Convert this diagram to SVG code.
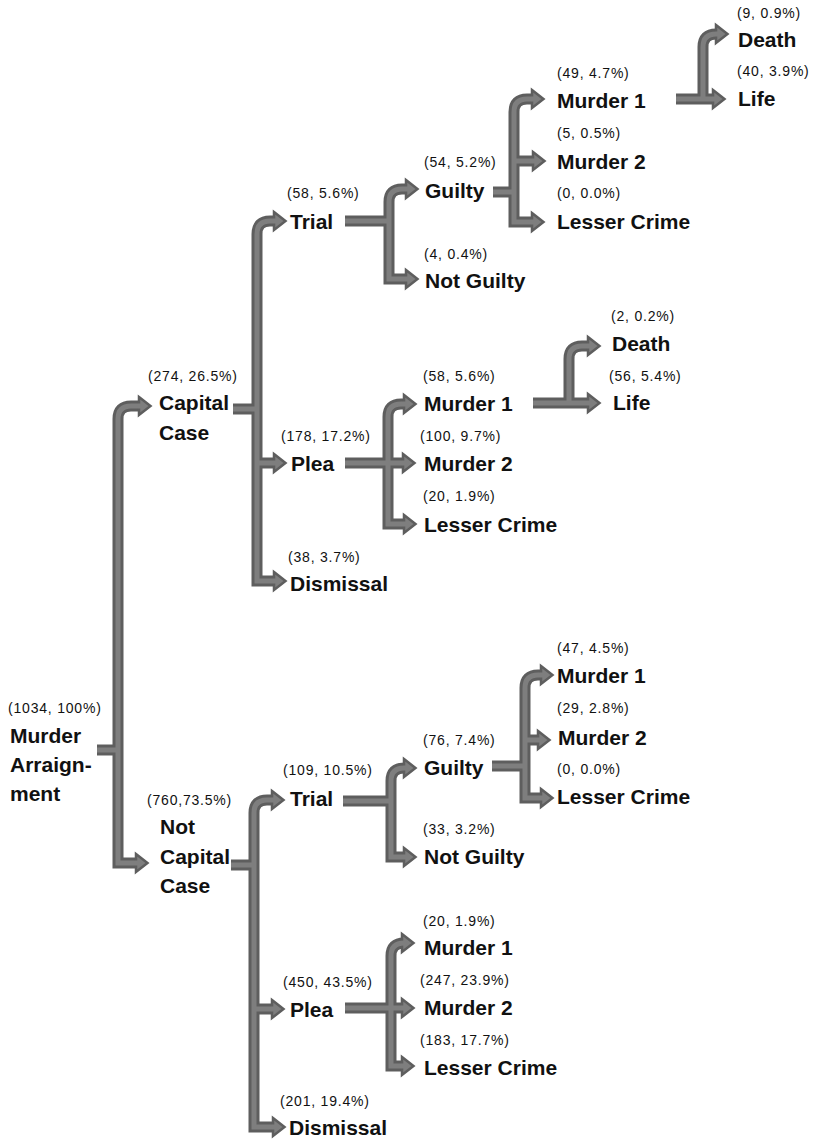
<svg xmlns="http://www.w3.org/2000/svg" xmlns:xlink="http://www.w3.org/1999/xlink" width="815" height="1139" viewBox="0 0 815 1139">
<style>
.b{font-family:"Liberation Sans",Arial,sans-serif;font-weight:bold;font-size:21px;fill:#111}
.s{font-family:"Liberation Sans",Arial,sans-serif;font-size:14px;letter-spacing:0.8px;fill:#111}
.o{fill:none;stroke:#5e5e5e;stroke-width:11;stroke-linejoin:miter}
.i{fill:none;stroke:#7e7e7e;stroke-width:5;stroke-linejoin:miter}
.h{fill:#7e7e7e;stroke:#5e5e5e;stroke-width:2.5;stroke-linejoin:miter}
</style>
<defs>
<path id="ah" d="M-14,-9 L-2.5,0 L-14,9 Z"/>
<g id="paths">
<path d="M97,750 H118"/>
<path d="M143,406 H131 Q118,406 118,419 V863 H140"/>
<path d="M233,409 H257"/>
<path d="M278,221 H270 Q257,221 257,234 V581 H278"/>
<path d="M257,463 H278"/>
<path d="M345,221 H389"/>
<path d="M410,189 H402 Q389,189 389,202 V279 H410"/>
<path d="M493,192 H514"/>
<path d="M536,99 H527 Q514,99 514,112 V222 H536"/>
<path d="M514,161 H537"/>
<path d="M676,99 H717"/>
<path d="M703,99 V47 Q703,34 716,34 H720"/>
<path d="M345,463 H407"/>
<path d="M408,404 H401 Q388,404 388,417 V524 H408"/>
<path d="M533,403 H592"/>
<path d="M569,403 V359 Q569,346 582,346 H592"/>
<path d="M231,865 H254"/>
<path d="M276,800 H267 Q254,800 254,813 V1127 H277"/>
<path d="M254,1009 H276"/>
<path d="M343,801 H391"/>
<path d="M408,768 H404 Q391,768 391,781 V857 H408"/>
<path d="M492,766 H525"/>
<path d="M545,675 H538 Q525,675 525,688 V798 H545"/>
<path d="M525,740 H542"/>
<path d="M345,1008 H406"/>
<path d="M406,943 H404 Q391,943 391,956 V1066 H406"/>
</g>
</defs>
<g id="connectors">
<use xlink:href="#paths" href="#paths" class="o"/>
<g class="h">
<use href="#ah" x="153" y="406"/><use href="#ah" x="150" y="863"/>
<use href="#ah" x="288" y="221"/><use href="#ah" x="288" y="581"/><use href="#ah" x="288" y="463"/>
<use href="#ah" x="420" y="189"/><use href="#ah" x="420" y="279"/>
<use href="#ah" x="546" y="99"/><use href="#ah" x="546" y="222"/><use href="#ah" x="547" y="161"/>
<use href="#ah" x="727" y="99"/><use href="#ah" x="730" y="34"/>
<use href="#ah" x="417" y="463"/><use href="#ah" x="418" y="404"/><use href="#ah" x="418" y="524"/>
<use href="#ah" x="602" y="403"/><use href="#ah" x="602" y="346"/>
<use href="#ah" x="286" y="800"/><use href="#ah" x="287" y="1127"/><use href="#ah" x="286" y="1009"/>
<use href="#ah" x="418" y="768"/><use href="#ah" x="418" y="857"/>
<use href="#ah" x="555" y="675"/><use href="#ah" x="555" y="798"/><use href="#ah" x="552" y="740"/>
<use href="#ah" x="416" y="1008"/><use href="#ah" x="416" y="943"/><use href="#ah" x="416" y="1066"/>
</g>
<use xlink:href="#paths" href="#paths" class="i"/>
</g>
<g id="n-root"><text class="s" x="8" y="713">(1034, 100%)</text><text class="b" x="10" y="743">Murder</text><text class="b" x="10" y="772">Arraign-</text><text class="b" x="10" y="801">ment</text></g>
<g id="n-capital"><text class="s" x="148" y="381">(274, 26.5%)</text><text class="b" x="159" y="410">Capital</text><text class="b" x="159" y="440">Case</text></g>
<g id="n-notcapital"><text class="s" x="147" y="805">(760,73.5%)</text><text class="b" x="160" y="834">Not</text><text class="b" x="160" y="864">Capital</text><text class="b" x="160" y="893">Case</text></g>
<g id="n-c-trial"><text class="s" x="287" y="198">(58, 5.6%)</text><text class="b" x="290" y="229">Trial</text></g>
<g id="n-c-plea"><text class="s" x="281" y="441">(178, 17.2%)</text><text class="b" x="291" y="471">Plea</text></g>
<g id="n-c-dismissal"><text class="s" x="288" y="562">(38, 3.7%)</text><text class="b" x="290" y="591">Dismissal</text></g>
<g id="n-c-guilty"><text class="s" x="424" y="167">(54, 5.2%)</text><text class="b" x="425" y="198">Guilty</text></g>
<g id="n-c-notguilty"><text class="s" x="424" y="259">(4, 0.4%)</text><text class="b" x="425" y="288">Not Guilty</text></g>
<g id="n-cg-m1"><text class="s" x="557" y="78">(49, 4.7%)</text><text class="b" x="557" y="108">Murder 1</text></g>
<g id="n-cg-m2"><text class="s" x="557" y="138">(5, 0.5%)</text><text class="b" x="557" y="169">Murder 2</text></g>
<g id="n-cg-lc"><text class="s" x="557" y="198">(0, 0.0%)</text><text class="b" x="557" y="229">Lesser Crime</text></g>
<g id="n-cg-death"><text class="s" x="737" y="18">(9, 0.9%)</text><text class="b" x="738" y="47">Death</text></g>
<g id="n-cg-life"><text class="s" x="737" y="76">(40, 3.9%)</text><text class="b" x="738" y="106">Life</text></g>
<g id="n-cp-m1"><text class="s" x="423" y="381">(58, 5.6%)</text><text class="b" x="424" y="411">Murder 1</text></g>
<g id="n-cp-m2"><text class="s" x="420" y="441">(100, 9.7%)</text><text class="b" x="424" y="471">Murder 2</text></g>
<g id="n-cp-lc"><text class="s" x="423" y="501">(20, 1.9%)</text><text class="b" x="424" y="532">Lesser Crime</text></g>
<g id="n-cp-death"><text class="s" x="611" y="321">(2, 0.2%)</text><text class="b" x="612" y="351">Death</text></g>
<g id="n-cp-life"><text class="s" x="609" y="381">(56, 5.4%)</text><text class="b" x="613" y="410">Life</text></g>
<g id="n-n-trial"><text class="s" x="283" y="775">(109, 10.5%)</text><text class="b" x="290" y="806">Trial</text></g>
<g id="n-n-plea"><text class="s" x="283" y="987">(450, 43.5%)</text><text class="b" x="290" y="1017">Plea</text></g>
<g id="n-n-dismissal"><text class="s" x="280" y="1106">(201, 19.4%)</text><text class="b" x="289" y="1135">Dismissal</text></g>
<g id="n-n-guilty"><text class="s" x="423" y="745">(76, 7.4%)</text><text class="b" x="424" y="775">Guilty</text></g>
<g id="n-n-notguilty"><text class="s" x="423" y="834">(33, 3.2%)</text><text class="b" x="424" y="864">Not Guilty</text></g>
<g id="n-ng-m1"><text class="s" x="557" y="653">(47, 4.5%)</text><text class="b" x="557" y="683">Murder 1</text></g>
<g id="n-ng-m2"><text class="s" x="557" y="713">(29, 2.8%)</text><text class="b" x="558" y="745">Murder 2</text></g>
<g id="n-ng-lc"><text class="s" x="557" y="774">(0, 0.0%)</text><text class="b" x="557" y="804">Lesser Crime</text></g>
<g id="n-np-m1"><text class="s" x="423" y="926">(20, 1.9%)</text><text class="b" x="424" y="955">Murder 1</text></g>
<g id="n-np-m2"><text class="s" x="420" y="985">(247, 23.9%)</text><text class="b" x="424" y="1015">Murder 2</text></g>
<g id="n-np-lc"><text class="s" x="420" y="1045">(183, 17.7%)</text><text class="b" x="424" y="1075">Lesser Crime</text></g>
</svg>
